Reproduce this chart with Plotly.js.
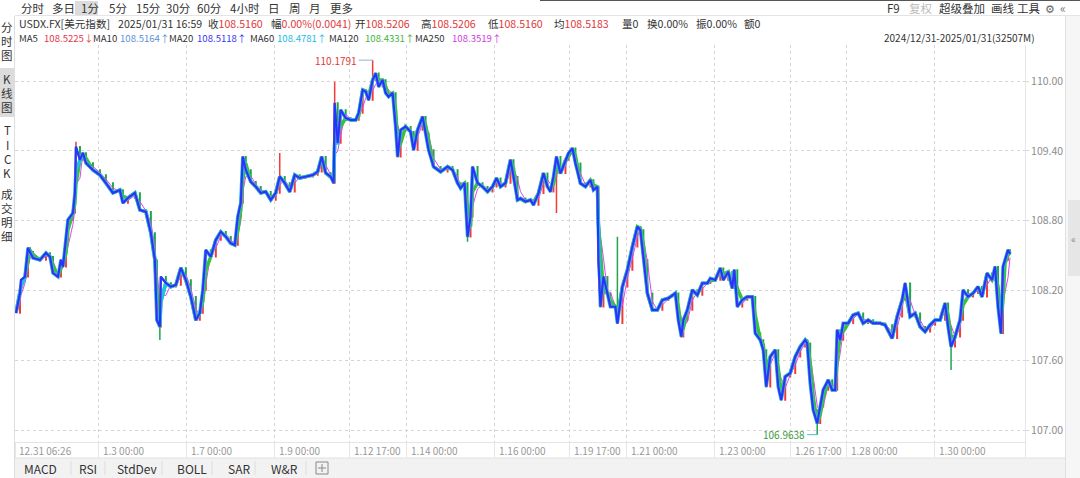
<!DOCTYPE html>
<html><head><meta charset="utf-8">
<script src="https://cdn.plot.ly/plotly-3.0.1.min.js"></script>
<style>html,body{margin:0;padding:0;background:#fff;overflow:hidden}#chart{width:1080px;height:478px}</style>
</head><body><div id="chart"></div>
<script>
// ---- data (bar position along the compressed 1-minute series, close price) ----
const barPos = [0,4,5,9,12,14,17,24,30,34,37,42,45,47,50,52,57,59,60,64,67,70,77,84,90,97,104,107,112,119,124,130,135,139,141,144,145,150,155,160,165,170,175,180,184,187,190,195,200,205,210,215,219,222,225,227,230,235,240,245,250,255,260,264,269,274,279,284,290,297,302,306,310,315,318,319,322,325,330,335,340,343,347,350,353,357,360,363,367,370,373,377,380,382,385,390,395,398,402,407,410,413,418,425,432,437,442,445,449,452,455,457,462,467,472,477,481,485,490,495,498,502,505,510,515,518,523,528,532,535,538,541,545,550,553,557,560,565,570,575,578,582,583,585,588,592,595,600,602,607,612,617,622,625,628,632,637,642,647,653,660,663,666,668,672,677,682,687,692,695,700,705,708,713,717,719,722,727,732,737,740,745,748,751,755,760,763,766,770,775,780,785,790,792,795,798,802,805,808,813,817,820,822,825,828,833,838,843,848,853,858,865,870,877,882,887,890,895,900,905,910,915,920,925,930,933,936,940,945,948,953,958,963,967,972,977,980,983,986,988,990,993,995];
const closes = [108.009,108.180,108.292,108.320,108.567,108.535,108.481,108.464,108.524,108.492,108.352,108.320,108.464,108.406,108.635,108.807,108.867,109.039,109.436,109.322,109.382,109.296,109.236,109.193,109.124,109.039,109.064,108.953,108.996,109.039,108.893,108.878,108.695,108.464,107.948,107.891,108.320,108.266,108.234,108.249,108.395,108.292,108.148,107.948,108.009,108.206,108.549,108.492,108.635,108.706,108.664,108.607,108.592,108.835,108.953,109.350,109.236,109.136,109.093,109.039,109.050,108.979,109.039,109.179,109.124,109.050,109.193,109.167,109.179,109.193,109.221,109.350,109.210,109.179,109.124,109.811,109.468,109.751,109.682,109.665,109.665,109.725,109.923,109.908,109.837,110.009,110.066,109.951,110.009,109.897,109.865,109.897,109.608,109.350,109.579,109.608,109.565,109.408,109.579,109.694,109.551,109.408,109.264,109.221,109.264,109.236,109.124,109.079,109.124,108.664,108.835,109.264,109.124,109.093,109.050,109.093,109.165,109.093,109.124,109.322,109.179,108.979,108.993,108.964,108.979,108.936,109.036,109.208,109.093,109.050,109.179,109.350,109.208,109.322,109.379,109.422,109.294,109.122,109.093,109.150,109.064,109.093,108.464,108.063,108.320,108.178,108.063,108.063,107.920,108.234,108.378,108.578,108.749,108.721,108.464,108.178,108.034,108.034,108.120,108.135,108.178,107.948,107.805,107.948,108.034,108.206,108.163,108.264,108.264,108.306,108.292,108.392,108.292,108.363,108.221,108.378,108.063,108.120,108.148,108.148,107.834,107.777,107.691,107.376,107.633,107.691,107.376,107.262,107.462,107.491,107.633,107.719,107.777,107.748,107.405,107.176,107.062,107.204,107.348,107.433,107.348,107.348,107.863,107.777,107.920,107.920,107.991,108.006,107.920,107.948,107.920,107.920,107.906,107.791,107.977,108.120,108.264,107.977,108.006,107.891,107.848,107.906,107.948,107.948,108.092,107.891,107.719,107.805,107.948,108.206,108.148,108.178,108.234,108.148,108.349,108.292,108.406,108.063,107.834,108.406,108.464,108.549,108.516];
// notable wick extremes
const extremeBars   = [60, 144, 264, 319, 357, 452, 541, 602, 802, 936];
const extremePrices = [109.479, 107.777, 109.382, 109.994, 110.1791, 108.621, 108.867, 108.664, 106.9638, 107.519];
const maxLabel = {bar: 357, price: 110.1791, text: "110.1791"};
const minLabel = {bar: 802, price: 106.9638, text: "106.9638"};
// time axis
const timeTickBars = [83,171,259,334,391,479,554,611,699,775,831,919];
const timeTickText = ["1.3 00:00","1.7 00:00","1.9 00:00","1.12 17:00","1.14 00:00","1.16 00:00","1.19 17:00","1.21 00:00","1.23 00:00","1.26 17:00","1.28 00:00","1.30 00:00"];
const firstTimeLabel = "12.31 06:26";
const priceTicks = [107.00,107.60,108.20,108.80,109.40,110.00];
// moving averages (periods in minutes)
const maNames   = ["MA5","MA10","MA20","MA60","MA120","MA250"];
const maPeriods = [5,10,20,60,120,250];
const maLast    = ["108.5225↓","108.5164↑","108.5118↑","108.4781↑","108.4331↑","108.3519↑"];
const minutesPerBar = 32.67;

// ---- build ----
const F = '"Noto Sans CJK SC", "Noto Sans", sans-serif';
const opens = closes.map((c,i)=> i===0 ? c : closes[i-1]);
const highs = closes.map((c,i)=> Math.max(c, opens[i]));
const lows  = closes.map((c,i)=> Math.min(c, opens[i]));
extremeBars.forEach((b,k)=>{ const i = barPos.indexOf(b); if(i<0) return;
  const p = extremePrices[k]; if(p>highs[i]) highs[i]=p; if(p<lows[i]) lows[i]=p; });

function movingAvg(minutes){
  const w = minutes/minutesPerBar;
  return closes.map((c,i)=>{ let s=0,n=0; for(let j=i;j>=0 && barPos[i]-barPos[j] < w; j--){s+=closes[j];n++;} return s/n; });
}
const maColors = ["#ff3d6e","#5b93d6","#2236ff","#19c3e6","#3cbf3c","#e040fb"];
const maWidths = [1.5, 2.5, 2, 3.5, 3.5, 1];
const traces = [];
// draw order: MA250, MA120, MA60, MA10, MA5, MA20
[5,4,3,1,0,2].forEach(k=>{
  traces.push({type:'scatter', mode:'lines', x:barPos, y:movingAvg(maPeriods[k]), name:maNames[k],
    line:{color:maColors[k], width:maWidths[k]}, hoverinfo:'skip', showlegend:false});
});
traces.push({type:'candlestick', x:barPos, open:opens, high:highs, low:lows, close:closes,
  increasing:{line:{color:'#f23b3b', width:1.5}, fillcolor:'#f23b3b'},
  decreasing:{line:{color:'#1fa64a', width:1.5}, fillcolor:'#1fa64a'},
  whiskerwidth:0, hoverinfo:'skip', showlegend:false});

// pixel helpers (plot area: x 15..1025, y 45..442)
const X = px => (px-15)/1010;
const Y = py => (442-py)/397;
const ann = [];
function txt(x,y,t,color='#333',size=12,anchor='left'){
  ann.push({xref:'paper',yref:'paper',x:X(x),y:Y(y),text:t,showarrow:false,xanchor:anchor,yanchor:'middle',
    font:{family:F,size:size,color:color}});
}
// top toolbar
[["分时",19],["多日",50],["1分",79],["5分",107],["15分",134],["30分",164],["60分",195],["4小时",228],["日",266],["周",287],["月",307],["更多",328]]
  .forEach(([t,x])=>txt(x,8,t,'#333',11.5));
txt(885,8,"F9",'#333',11.5); txt(907,8,"复权",'#bbbbbb',11.5); txt(937,8,"超级叠加",'#333',11.5);
txt(989,8,"画线",'#333',11.5); txt(1015,8,"工具",'#333',11.5); txt(1043,8,"⚙",'#666',11); txt(1058,8,"«",'#777',12);
// info row
const R='#e0383a';
const S2 = 10.6;
txt(17,23,"USDX.FX[美元指数]",'#333',S2);
txt(116,23,"2025/01/31 16:59",'#333',S2);
txt(206,23,"收<span style='color:"+R+"'>108.5160</span>",'#333',S2);
txt(269,23,"幅<span style='color:"+R+"'>0.00%(0.0041)</span>",'#333',S2);
txt(353,23,"开<span style='color:"+R+"'>108.5206</span>",'#333',S2);
txt(419,23,"高<span style='color:"+R+"'>108.5206</span>",'#333',S2);
txt(486,23,"低<span style='color:"+R+"'>108.5160</span>",'#333',S2);
txt(552,23,"均<span style='color:"+R+"'>108.5183</span>",'#333',S2);
txt(620,23,"量0",'#333',S2);
txt(645,23,"换0.00%",'#333',S2);
txt(694,23,"振0.00%",'#333',S2);
txt(742,23,"额0",'#333',S2);
// MA row
const maTextColors = ["#e8374f","#5b93d6","#3a3af0","#22bde0","#45b545","#d040e0"];
const maXs = [[17,42],[91,118],[167,195],[248,275],[327,363],[413,450]];
maNames.forEach((n,k)=>{ txt(maXs[k][0],38,n,'#333',9.6); txt(maXs[k][1],38,maLast[k],maTextColors[k],9.6); });
txt(1037,38,"2024/12/31-2025/01/31(32507M)",'#333',10,'right');
// left sidebar
[["分",27],["时",41],["图",55],["K",79],["线",93],["图",107],["T",130],["I",145],["C",159],["K",173],["成",194],["交",208],["明",222],["细",236]]
  .forEach(([t,y])=>txt(7,y,t,'#333',11.5,'center'));
// x axis labels
txt(17,450,firstTimeLabel,'#999',10);
timeTickBars.forEach((b,i)=>txt(b+15+3,450,timeTickText[i],'#999',10));
// bottom toolbar
[["MACD",22],["RSI",77],["StdDev",115],["BOLL",175],["SAR",226],["W&R",269]].forEach(([t,x])=>txt(x,468,t,'#333',12));
txt(1073,238,"«",'#888',10,'center');
// extremes
ann.push({x:maxLabel.bar,y:maxLabel.price,xref:'x',yref:'y',text:maxLabel.text,showarrow:true,arrowhead:0,arrowwidth:1,
  arrowcolor:'#8fb3cf',ax:-14,ay:0,font:{family:F,size:10,color:'#e0383a'},xanchor:'right'});
ann.push({x:minLabel.bar,y:minLabel.price,xref:'x',yref:'y',text:minLabel.text,showarrow:true,arrowhead:0,arrowwidth:1,
  arrowcolor:'#49b9d8',ax:-10,ay:0,font:{family:F,size:10,color:'#3c9a3c'},xanchor:'right'});

// shapes
const shapes = [];
function rect(x0,y0,x1,y1,fill,line){ shapes.push({type:'rect',xref:'paper',yref:'paper',x0:X(x0),x1:X(x1),y0:Y(y1),y1:Y(y0),fillcolor:fill,line:{width:line?1:0,color:line||'rgba(0,0,0,0)'},layer:'below'}); }
function ln(x0,y0,x1,y1,color){ shapes.push({type:'line',xref:'paper',yref:'paper',x0:X(x0),x1:X(x1),y0:Y(y0),y1:Y(y1),line:{width:1,color:color},layer:'above'}); }
rect(75,1,98,16,'#dcdcdc');
rect(0,68,14,117,'#dcdcdc');
ln(540,0.5,1080,0.5,'#555');
ln(15,15.5,1080,15.5,'#e4e4e4');
ln(14.5,16,14.5,478,'#dedede');
ln(15,442.5,1025,442.5,'#e4e4e4');
rect(15,458,1065,478,'#f2f2f2');
ln(15,458,1065,458,'#e0e0e0');
[15,timeTickBars.map(b=>b+15)].flat().forEach(x=>ln(x+0.5,443,x+0.5,458,'#e6e6e6'));
ln(1025.5,442,1025.5,458,'#e6e6e6');
[71,105,162,212,255,306].forEach(x=>ln(x,461,x,475,'#dddddd'));
shapes.push({type:'rect',xref:'paper',yref:'paper',x0:X(316),x1:X(328),y0:Y(474),y1:Y(462),line:{width:1,color:'#888'},fillcolor:'rgba(0,0,0,0)'});
ln(322,464,322,472,'#888'); ln(318,468,326,468,'#888');
rect(1066,16,1080,478,'#f6f6f6');
ln(1065.5,16,1065.5,478,'#e0e0e0');
rect(1068,200,1080,276,'#e6e6e6');

const layout = {
  width:1080, height:478, margin:{l:15,r:55,t:45,b:36,pad:0},
  paper_bgcolor:'#ffffff', plot_bgcolor:'#ffffff', showlegend:false, dragmode:false,
  xaxis:{range:[-1,1010], tickvals:timeTickBars, showticklabels:false, ticks:'', showgrid:true,
    gridcolor:'#d6d6d6', griddash:'dot', gridwidth:1, zeroline:false, showline:false, rangeslider:{visible:false}, fixedrange:true},
  yaxis:{side:'right', range:[106.901,110.309], tickvals:priceTicks, ticktext:priceTicks.map(v=>v.toFixed(2)),
    showgrid:true, gridcolor:'#d6d6d6', griddash:'dot', zeroline:false, showline:true, linecolor:'#e6e6e6', linewidth:1,
    ticks:'outside', ticklen:3, tickcolor:'#d6d6d6', tickfont:{family:F,size:10.5,color:'#8c8c8c'}, fixedrange:true},
  annotations:ann, shapes:shapes, font:{family:F}
};
Plotly.newPlot('chart', traces, layout, {staticPlot:true, displayModeBar:false});
</script></body></html>
